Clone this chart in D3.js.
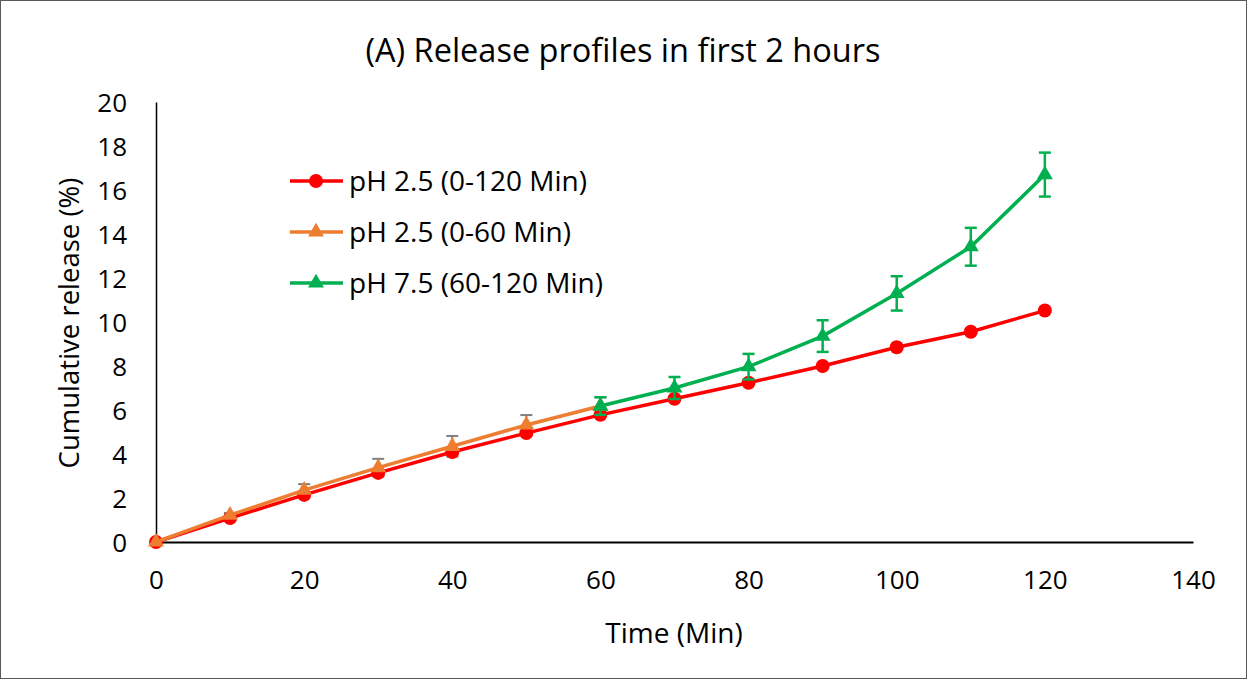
<!DOCTYPE html>
<html>
<head>
<meta charset="utf-8">
<script src="https://cdn.jsdelivr.net/npm/d3@7"></script>
<style>
  html, body { margin: 0; padding: 0; background: #fff; }
  svg { display: block; }
</style>
</head>
<body>
<script>
// Release data (minutes vs cumulative %)
const timesAll = [0, 10, 20, 30, 40, 50, 60, 70, 80, 90, 100, 110, 120];
const acid120 = [0, 1.09, 2.14, 3.14, 4.09, 4.95, 5.78, 6.51, 7.24, 8.0, 8.85, 9.56, 10.52];

const timesAcid60 = [0, 10, 20, 30, 40, 50, 60];
const acid60 = [0, 1.22, 2.36, 3.38, 4.35, 5.32, 6.18];
const acid60Err = [0, 0.1, 0.27, 0.4, 0.47, 0.45, 0.4];

const timesBase = [60, 70, 80, 90, 100, 110, 120];
const base = [6.18, 7.0, 7.97, 9.36, 11.3, 13.42, 16.7];
const baseErr = [0.4, 0.5, 0.58, 0.72, 0.78, 0.86, 1.0];

const xTicks = [0, 20, 40, 60, 80, 100, 120, 140];
const yTicks = [0, 2, 4, 6, 8, 10, 12, 14, 16, 18, 20];

const seriesNames = ["pH 2.5 (0-120 Min)", "pH 2.5 (0-60 Min)", "pH 7.5 (60-120 Min)"];
const colors = ["#ff0000", "#ed7d31", "#00b050"];

const W = 1247, H = 679;
const margin = { left: 156, right: 54, top: 102, bottom: 137 };
const font = "'Open Sans', sans-serif";

const svg = d3.select("body").append("svg").attr("width", W).attr("height", H);

svg.append("rect").attr("x", 0.5).attr("y", 0.5).attr("width", W - 1).attr("height", H - 1)
  .attr("fill", "#fff").attr("stroke", "#595959").attr("stroke-width", 1);

const x = d3.scaleLinear().domain([0, 140]).range([margin.left, W - margin.right]);
const y = d3.scaleLinear().domain([0, 20]).range([H - margin.bottom, margin.top]);

// Title
svg.append("text").attr("x", 623).attr("y", 62).attr("text-anchor", "middle")
  .attr("font-family", font).attr("font-size", 32.5).attr("fill", "#000")
  .text("(A) Release profiles in first 2 hours");

// Axes
const xAxis = d3.axisBottom(x).tickValues(xTicks).tickSize(0).tickPadding(29).tickFormat(d3.format("d"));
const yAxis = d3.axisLeft(y).tickValues(yTicks).tickSize(0).tickPadding(29).tickFormat(d3.format("d"));

const gx = svg.append("g").attr("transform", `translate(0,${y(0)})`).call(xAxis);
const gy = svg.append("g").attr("transform", `translate(${x(0)},0)`).call(yAxis);
gx.select(".domain").attr("stroke", "#000").attr("stroke-width", 2);
gy.select(".domain").attr("stroke", "#000").attr("stroke-width", 1.5);
[gx, gy].forEach(g => g.selectAll("text").attr("font-family", font).attr("font-size", 26).attr("fill", "#000"));
gy.selectAll(".tick text").attr("dy", "0.35em");

// Axis titles
svg.append("text").attr("x", 674).attr("y", 643).attr("text-anchor", "middle")
  .attr("font-family", font).attr("font-size", 28).attr("fill", "#000").text("Time (Min)");
svg.append("text").attr("transform", `translate(79,${y(10) + 1})rotate(-90)`).attr("text-anchor", "middle")
  .attr("font-family", font).attr("font-size", 27.5).attr("fill", "#000").text("Cumulative release (%)");

const plot = svg.append("g");
const line = d3.line().x(d => x(d[0])).y(d => y(d[1]));
const tri = d3.symbol().type(d3.symbolTriangle).size(110);

function errorBars(ts, vs, es, color, w) {
  const g = plot.append("g").attr("stroke", color).attr("stroke-width", w).attr("fill", "none");
  ts.forEach((t, i) => {
    if (!es[i]) return;
    const cx = x(t), y1 = y(vs[i] + es[i]), y2 = y(vs[i] - es[i]);
    g.append("line").attr("x1", cx).attr("x2", cx).attr("y1", y1).attr("y2", y2);
    g.append("line").attr("x1", cx - 6).attr("x2", cx + 6).attr("y1", y1).attr("y2", y1);
    g.append("line").attr("x1", cx - 6).attr("x2", cx + 6).attr("y1", y2).attr("y2", y2);
  });
}

// Grey error bars of the acid 0-60 series sit behind the lines
errorBars(timesAcid60, acid60, acid60Err, "#7f7f7f", 2);

// pH 2.5 (0-120)
const redPts = timesAll.map((t, i) => [t, acid120[i]]);
plot.append("path").datum(redPts).attr("d", line).attr("fill", "none")
  .attr("stroke", colors[0]).attr("stroke-width", 3.5);
plot.selectAll(".red").data(redPts).enter().append("circle")
  .attr("cx", d => x(d[0])).attr("cy", d => y(d[1])).attr("r", 7).attr("fill", colors[0]);

// pH 2.5 (0-60)
const orPts = timesAcid60.map((t, i) => [t, acid60[i]]);
plot.append("path").datum(orPts).attr("d", line).attr("fill", "none")
  .attr("stroke", colors[1]).attr("stroke-width", 3.5);
plot.selectAll(".or").data(orPts).enter().append("path")
  .attr("d", tri).attr("transform", d => `translate(${x(d[0])},${y(d[1])})`).attr("fill", colors[1]);

// pH 7.5 (60-120)
errorBars(timesBase, base, baseErr, colors[2], 2.5);
const grPts = timesBase.map((t, i) => [t, base[i]]);
plot.append("path").datum(grPts).attr("d", line).attr("fill", "none")
  .attr("stroke", colors[2]).attr("stroke-width", 3.5);
plot.selectAll(".gr").data(grPts).enter().append("path")
  .attr("d", tri).attr("transform", d => `translate(${x(d[0])},${y(d[1])})`).attr("fill", colors[2]);

// Legend
const legend = svg.append("g");
const rowsY = [181, 232, 283];
seriesNames.forEach((name, i) => {
  const g = legend.append("g").attr("transform", `translate(0,${rowsY[i]})`);
  g.append("line").attr("x1", 290).attr("x2", 343).attr("y1", 0).attr("y2", 0)
    .attr("stroke", colors[i]).attr("stroke-width", 3.5);
  if (i === 0) g.append("circle").attr("cx", 316).attr("cy", 0).attr("r", 7).attr("fill", colors[i]);
  else g.append("path").attr("d", tri).attr("transform", "translate(316,0)").attr("fill", colors[i]);
  g.append("text").attr("x", 349).attr("y", 0).attr("dy", "0.35em")
    .attr("font-family", font).attr("font-size", 28).attr("fill", "#000").text(name);
});
</script>
</body>
</html>
